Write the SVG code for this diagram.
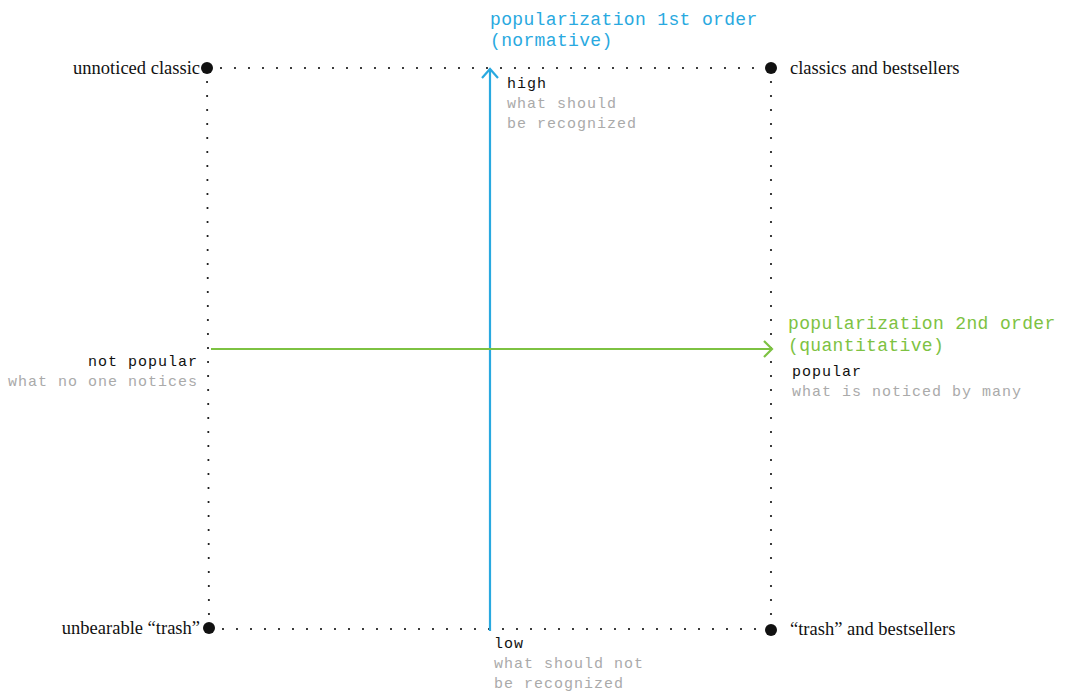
<svg xmlns="http://www.w3.org/2000/svg" width="1066" height="692" viewBox="0 0 1066 692">
<style>
.dot{stroke:#111;stroke-width:2.2;stroke-linecap:round;stroke-dasharray:0 14;fill:none}
.serif{font-family:"Liberation Serif","DejaVu Serif",serif;font-size:18.5px;fill:#111}
.mono{font-family:"Liberation Mono","DejaVu Sans Mono",monospace;font-size:15px;letter-spacing:1px}
.k{fill:#111}
.g{fill:#aaa}
.title{font-family:"Liberation Mono","DejaVu Sans Mono",monospace;font-size:18px;letter-spacing:0.35px}
</style>
<rect width="1066" height="692" fill="#fff"/>
<g id="connectors">
<line class="dot" x1="207" y1="68" x2="771" y2="68"/>
<line class="dot" x1="207" y1="68" x2="209" y2="628"/>
<line class="dot" x1="771" y1="68" x2="771" y2="630"/>
<line class="dot" x1="209" y1="629" x2="771" y2="629"/>
<g id="axis-1st" stroke="#29a9e0" stroke-width="2.2" fill="none">
<line x1="490" y1="631" x2="490" y2="69"/>
<polyline points="482,78 490,69 498,78"/>
</g>
<g id="axis-2nd" stroke="#7dc242" stroke-width="2.2" fill="none">
<line x1="211" y1="349" x2="772" y2="349"/>
<polyline points="764,341 772,349 764,357"/>
</g>
</g>
<g id="node-unnoticed-classic">
<circle cx="207" cy="68" r="6" fill="#111"/>
<text class="serif" x="200" y="74" text-anchor="end">unnoticed classic</text>
</g>
<g id="node-classics-bestsellers">
<circle cx="771" cy="68" r="6" fill="#111"/>
<text class="serif" x="790" y="74">classics and bestsellers</text>
</g>
<g id="node-unbearable-trash">
<circle cx="209" cy="628" r="6" fill="#111"/>
<text class="serif" x="200" y="634" text-anchor="end">unbearable “trash”</text>
</g>
<g id="node-trash-bestsellers">
<circle cx="771" cy="630" r="6" fill="#111"/>
<text class="serif" x="790" y="635">“trash” and bestsellers</text>
</g>
<g id="label-1st-order">
<text class="title" fill="#29a9e0" x="490" y="25">popularization 1st order</text>
<text class="title" fill="#29a9e0" x="490" y="46">(normative)</text>
</g>
<g id="label-high">
<text class="mono k" x="507" y="88">high</text>
<text class="mono g" x="507" y="108">what should</text>
<text class="mono g" x="507" y="128">be recognized</text>
</g>
<g id="label-low">
<text class="mono k" x="494" y="648">low</text>
<text class="mono g" x="494" y="668">what should not</text>
<text class="mono g" x="494" y="688">be recognized</text>
</g>
<g id="label-2nd-order">
<text class="title" fill="#7dc242" x="788" y="329">popularization 2nd order</text>
<text class="title" fill="#7dc242" x="788" y="351">(quantitative)</text>
</g>
<g id="label-popular">
<text class="mono k" x="792" y="376">popular</text>
<text class="mono g" x="792" y="396">what is noticed by many</text>
</g>
<g id="label-not-popular">
<text class="mono k" x="198" y="366" text-anchor="end">not popular</text>
<text class="mono g" x="198" y="386" text-anchor="end">what no one notices</text>
</g>
</svg>
